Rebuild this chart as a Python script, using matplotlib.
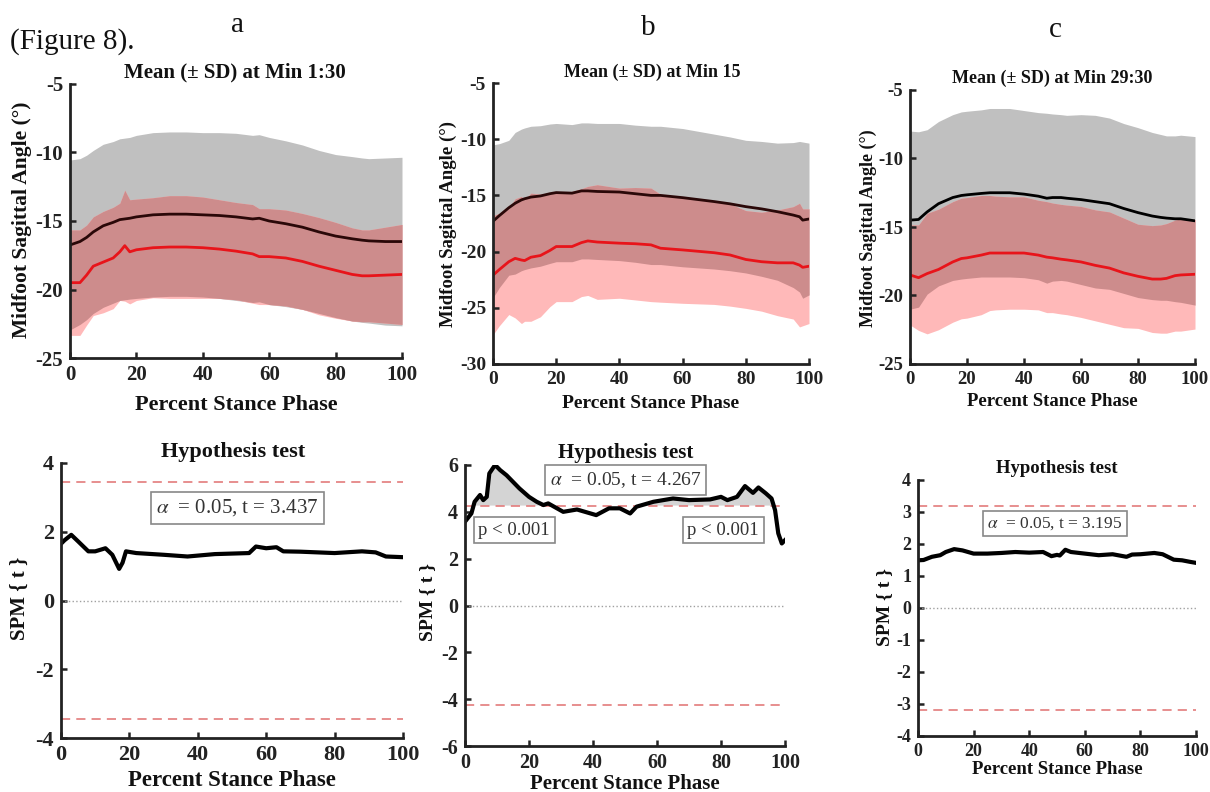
import numpy as np
import matplotlib
matplotlib.use("Agg")
import matplotlib.pyplot as plt

plt.rcParams['font.family'] = ['Liberation Serif', 'DejaVu Serif']
plt.rcParams['mathtext.fontset'] = 'stix'
plt.rcParams['axes.unicode_minus'] = False

# ---------------- data ----------------
# Panel a (Min 1:30)
a_x = [0, 3, 5, 7, 10, 13, 15, 16.5, 18, 20, 25, 30, 35, 40, 45, 50, 55, 57, 60, 65, 70, 75, 80, 85, 88, 90, 95, 100]
a_mean_black = [-16.75, -16.5, -16.2, -15.8, -15.35, -15.1, -14.9, -14.85, -14.8, -14.7, -14.55, -14.5, -14.5, -14.55,
                -14.6, -14.7, -14.85, -14.8, -15.0, -15.2, -15.45, -15.8, -16.1, -16.3, -16.4, -16.45, -16.5, -16.5]
a_sd_black = [6.2, 6.05, 6.0, 5.95, 5.95, 5.9, 5.9, 5.9, 5.9, 5.95, 6.0, 6.0, 6.0, 6.0,
              6.05, 6.1, 6.1, 6.1, 6.1, 6.05, 6.0, 5.95, 5.95, 6.0, 6.0, 6.0, 6.1, 6.15]
a_mean_red = [-19.5, -19.5, -18.95, -18.3, -18.0, -17.7, -17.25, -16.8, -17.25, -17.1, -16.95, -16.9, -16.9, -16.95,
              -17.05, -17.2, -17.4, -17.6, -17.6, -17.7, -17.95, -18.3, -18.6, -18.9, -19.0, -19.0, -18.95, -18.9]
a_sd_red = [3.85, 3.85, 3.65, 3.6, 3.7, 3.7, 3.55, 4.05, 3.8, 3.7, 3.65, 3.75, 3.75, 3.7,
            3.6, 3.55, 3.6, 3.5, 3.5, 3.5, 3.5, 3.55, 3.5, 3.4, 3.35, 3.35, 3.5, 3.65]

# Panel b (Min 15)
b_x = [0, 2, 5, 7, 9, 10, 12, 15, 18, 20, 25, 28, 30, 33, 40, 45, 50, 53, 60, 70, 75, 80, 85, 90, 95, 97, 98, 100]
b_mean_black = [-17.3, -16.8, -16.1, -15.7, -15.4, -15.3, -15.15, -15.05, -14.85, -14.75, -14.8, -14.6, -14.6, -14.65,
                -14.7, -14.85, -15.0, -15.0, -15.2, -15.55, -15.75, -16.0, -16.2, -16.45, -16.75, -16.9, -17.2, -17.1]
b_sd_black = [6.8, 6.4, 6.0, 6.3, 6.3, 6.3, 6.3, 6.25, 6.2, 6.15, 6.1, 6.05, 6.05, 6.05,
              6.1, 6.1, 6.15, 6.15, 6.15, 6.0, 5.95, 5.9, 6.0, 6.1, 6.45, 6.7, 6.95, 6.75]
b_mean_red = [-22.1, -21.6, -20.9, -20.6, -20.75, -20.8, -20.5, -20.35, -19.9, -19.55, -19.55, -19.2, -19.05, -19.15,
              -19.25, -19.3, -19.4, -19.7, -19.85, -20.1, -20.3, -20.7, -20.9, -21.0, -21.0, -21.2, -21.4, -21.3]
b_sd_red = [5.3, 5.0, 4.7, 5.3, 5.65, 5.4, 5.7, 5.45, 5.0, 4.9, 4.9, 4.8, 4.85, 5.1,
            4.9, 5.0, 5.05, 4.8, 4.75, 4.6, 4.55, 4.35, 4.4, 4.7, 5.0, 5.5, 5.2, 5.1]

# Panel c (Min 29:30)
c_x = [0, 3, 6, 10, 15, 18, 20, 25, 28, 30, 35, 40, 45, 48, 50, 53, 55, 60, 65, 70, 75, 80, 85, 88, 90, 93, 95, 100]
c_mean_black = [-14.5, -14.45, -13.9, -13.3, -12.85, -12.7, -12.65, -12.55, -12.5, -12.5, -12.5, -12.6, -12.75, -12.9,
                -12.85, -12.85, -12.9, -13.0, -13.15, -13.3, -13.65, -13.95, -14.2, -14.3, -14.35, -14.4, -14.4, -14.55]
c_sd_black = [6.5, 6.4, 6.0, 6.0, 6.05, 6.1, 6.1, 6.1, 6.15, 6.15, 6.15, 6.1, 6.1, 6.2,
              6.1, 6.05, 6.05, 6.2, 6.3, 6.25, 6.2, 6.2, 6.1, 6.05, 6.0, 6.05, 6.1, 6.15]
c_mean_red = [-18.5, -18.7, -18.4, -18.1, -17.55, -17.3, -17.25, -17.05, -16.9, -16.9, -16.9, -16.9, -17.05, -17.2,
              -17.25, -17.35, -17.4, -17.55, -17.8, -18.0, -18.35, -18.6, -18.8, -18.8, -18.75, -18.55, -18.5, -18.45]
c_sd_red = [3.65, 3.85, 4.4, 4.4, 4.4, 4.4, 4.4, 4.35, 4.2, 4.15, 4.1, 4.1, 4.0, 4.05,
            4.0, 4.0, 4.0, 4.05, 4.05, 4.1, 4.0, 3.8, 3.9, 3.95, 4.0, 4.05, 4.1, 4.0]

# SPM {t} traces
spm_a_x = [0, 1, 3, 5, 8, 10, 13, 15, 17, 18, 19, 22, 30, 37, 45, 55, 57, 60, 63, 65, 70, 80, 88, 92, 95, 100]
spm_a_t = [1.65, 1.75, 1.91, 1.72, 1.43, 1.43, 1.52, 1.33, 0.92, 1.1, 1.43, 1.38, 1.33, 1.28, 1.35, 1.38, 1.57, 1.52,
           1.55, 1.43, 1.42, 1.38, 1.43, 1.4, 1.28, 1.26]
spm_b_x = [0, 2, 3, 4.7, 5.7, 6.8, 7.6, 9.4, 11, 13, 15, 17, 20, 22.4, 24.5, 26, 30.7, 35, 41, 45, 48.4, 51.6, 53.6,
           58.9, 65, 70, 76.6, 80, 82, 85, 87.5, 90, 91.7, 94, 95.8, 96.9, 97.9, 99, 100]
spm_b_t = [3.58, 3.93, 4.43, 4.72, 4.5, 4.64, 5.64, 6.0, 5.78, 5.56, 5.28, 5.0, 4.64, 4.43, 4.29, 4.36, 4.0, 4.1, 3.86,
           4.15, 4.15, 3.93, 4.22, 4.43, 4.57, 4.5, 4.53, 4.64, 4.5, 4.64, 5.1, 4.81, 5.04, 4.79, 4.57, 4.07, 3.08,
           2.65, 2.79]
spm_c_x = [0, 2, 5, 8, 10, 13, 16, 20, 25, 30, 35, 40, 45, 48, 50, 51, 53, 55, 60, 65, 70, 75, 77, 80, 85, 88, 92, 95,
           98, 100]
spm_c_t = [1.49, 1.5, 1.6, 1.65, 1.75, 1.84, 1.8, 1.70, 1.70, 1.72, 1.75, 1.73, 1.75, 1.62, 1.66, 1.64, 1.82, 1.75,
           1.70, 1.65, 1.68, 1.60, 1.67, 1.68, 1.72, 1.68, 1.51, 1.49, 1.44, 1.41]

thresholds = [3.437, 4.267, 3.195]
panel_letters = ['a', 'b', 'c']
top_titles = ['Mean (± SD) at Min 1:30', 'Mean (± SD) at Min 15', 'Mean (± SD) at Min 29:30']

# ---------------- style ----------------
GRAY = '#c0c0c0'
PINK = '#ffb9b9'
OVER = '#cd8c8c'
RED = '#e8141a'
W, H = 1210, 792

fig = plt.figure(figsize=(W / 100, H / 100), dpi=100)


def fx(px):
    return px / W


def fy(py):
    return 1 - py / H


def add_axes(l, r, t, b):
    return fig.add_axes([fx(l), fy(b), (r - l) / W, (b - t) / H])


def style_axes(ax, fs):
    for s in ['top', 'right']:
        ax.spines[s].set_visible(False)
    for s in ['left', 'bottom']:
        ax.spines[s].set_linewidth(2.0)
        ax.spines[s].set_color('#222222')
    ax.tick_params(direction='in', length=4, width=1.8, labelsize=fs, colors='#222222', pad=5)
    for lab in ax.get_xticklabels() + ax.get_yticklabels():
        lab.set_fontweight('bold')


def top_panel(ax, x, m1, s1, m2, s2, black_col):
    x = np.asarray(x)
    m1, s1, m2, s2 = map(np.asarray, (m1, s1, m2, s2))
    u1, l1, u2, l2 = m1 + s1, m1 - s1, m2 + s2, m2 - s2
    ax.fill_between(x, l1, u1, color=GRAY, lw=0)
    ax.fill_between(x, l2, u2, color=PINK, lw=0)
    lo = np.maximum(l1, l2)
    hi = np.minimum(u1, u2)
    ax.fill_between(x, lo, hi, where=hi > lo, color=OVER, lw=0, interpolate=True)
    ax.plot(x, m1, color=black_col, lw=2)
    ax.plot(x, m2, color=RED, lw=2)
    ax.set_xlim(0, 100)
    ax.set_xticks([0, 20, 40, 60, 80, 100])


# top panels
ax1 = add_axes(70, 402, 84, 358)
top_panel(ax1, a_x, a_mean_black, a_sd_black, a_mean_red, a_sd_red, '#2a0808')
ax1.set_ylim(-25, -5)
ax1.set_yticks([-25, -20, -15, -10, -5])
style_axes(ax1, 15)

ax2 = add_axes(493, 809, 83, 364)
top_panel(ax2, b_x, b_mean_black, b_sd_black, b_mean_red, b_sd_red, '#2a0808')
ax2.set_ylim(-30, -5)
ax2.set_yticks([-30, -25, -20, -15, -10, -5])
style_axes(ax2, 14)

ax3 = add_axes(910, 1195, 90, 364)
top_panel(ax3, c_x, c_mean_black, c_sd_black, c_mean_red, c_sd_red, '#000000')
ax3.set_ylim(-25, -5)
ax3.set_yticks([-25, -20, -15, -10, -5])
style_axes(ax3, 13.5)


def spm_panel(ax, x, t, thr, ylim, yticks, fill=False):
    x = np.asarray(x)
    t = np.asarray(t)
    if fill:
        ax.fill_between(x, thr, t, where=t > thr, interpolate=True, color='#d4d4d4', lw=0)
    ax.axhline(thr, color='#e07070', lw=1.1, ls=(0, (6, 4)))
    ax.axhline(-thr, color='#e07070', lw=1.1, ls=(0, (6, 4)))
    ax.axhline(0, color='#a0a0a0', lw=1.0, ls=':')
    ax.plot(x, t, color='black', lw=3)
    ax.set_xlim(0, 100)
    ax.set_ylim(*ylim)
    ax.set_yticks(yticks)
    ax.set_xticks([0, 20, 40, 60, 80, 100])


box = dict(boxstyle='square,pad=0.25', facecolor='white', edgecolor='#888888', lw=1.2)

ax4 = add_axes(61, 403, 463, 738)
spm_panel(ax4, spm_a_x, spm_a_t, thresholds[0], (-4, 4), [-4, -2, 0, 2, 4])
style_axes(ax4, 16)
ax4.text(51.6, 2.69, r'$\alpha$  = 0.05, t = %.3f' % thresholds[0], ha='center', va='center',
         fontsize=15, color='#333333', bbox=box)

ax5 = add_axes(465, 785, 465, 746)
spm_panel(ax5, spm_b_x, spm_b_t, thresholds[1], (-6, 6), [-6, -4, -2, 0, 2, 4, 6], fill=True)
style_axes(ax5, 14.5)
ax5.text(50.2, 5.36, r'$\alpha$  = 0.05, t = %.3f' % thresholds[1], ha='center', va='center',
         fontsize=14, color='#333333', bbox=box)
ax5.text(15.4, 3.22, 'p < 0.001', ha='center', va='center', fontsize=13.5, color='#333333', bbox=box)
ax5.text(80.7, 3.22, 'p < 0.001', ha='center', va='center', fontsize=13.5, color='#333333', bbox=box)

ax6 = add_axes(918, 1196, 480, 736)
spm_panel(ax6, spm_c_x, spm_c_t, thresholds[2], (-4, 4), [-4, -3, -2, -1, 0, 1, 2, 3, 4])
style_axes(ax6, 13)
ax6.text(49.3, 2.64, r'$\alpha$  = 0.05, t = %.3f' % thresholds[2], ha='center', va='center',
         fontsize=12.5, color='#333333', bbox=box)

# ---------------- text ----------------
TXT = '#111111'
fig.text(fx(10), fy(49), '(Figure 8).', fontsize=21, ha='left', va='baseline', color=TXT)
for letter, px, py in zip(panel_letters, [237, 648, 1055], [32, 35, 37]):
    fig.text(fx(px), fy(py), letter, fontsize=21, ha='center', va='baseline', color=TXT)

for title, px, py, fs in zip(top_titles, [235, 652, 1052], [72, 72, 78], [15, 13, 13]):
    fig.text(fx(px), fy(py), title, fontsize=fs, fontweight='bold', ha='center', va='center', color=TXT)

for px, py, fs in zip([236, 651, 1052], [405, 403, 402], [16, 14, 13.5]):
    fig.text(fx(px), fy(py), 'Percent Stance Phase', fontsize=fs, fontweight='bold', ha='center', va='center',
             color=TXT)

for px, py, fs in zip([22, 448, 868], [220, 224, 228], [15.5, 13.5, 13]):
    fig.text(fx(px), fy(py), 'Midfoot Sagittal Angle (°)', fontsize=fs, fontweight='bold', ha='center',
             va='center', rotation=90, color=TXT)

for px, py, fs in zip([233, 626, 1057], [452, 453, 469], [16, 15, 13.5]):
    fig.text(fx(px), fy(py), 'Hypothesis test', fontsize=fs, fontweight='bold', ha='center', va='center', color=TXT)

for px, py, fs in zip([232, 625, 1057], [780, 784, 770], [16.5, 15, 13.5]):
    fig.text(fx(px), fy(py), 'Percent Stance Phase', fontsize=fs, fontweight='bold', ha='center', va='center',
             color=TXT)

for px, py, fs in zip([20, 428, 885], [598, 602, 607], [15, 14, 14]):
    fig.text(fx(px), fy(py), 'SPM { t }', fontsize=fs, fontweight='bold', ha='center', va='center', rotation=90,
             color=TXT)

fig.savefig('out.png', dpi=100, facecolor='white')
